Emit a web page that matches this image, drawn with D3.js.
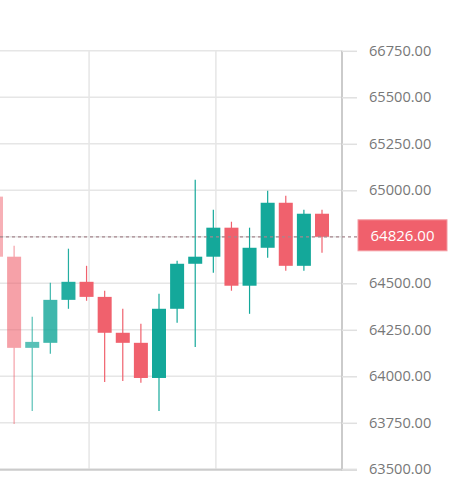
<!DOCTYPE html>
<html>
<head>
<meta charset="utf-8">
<script src="https://cdn.jsdelivr.net/npm/d3@7"></script>
<style>
  body { margin: 0; background: #fff; }
  text { font-family: "Open Sans", sans-serif; }
</style>
</head>
<body>
<div id="chart"></div>
<script>
"use strict";

// candle values (index 0 is cut by the left edge)
const opens  = [64966, 64643, 64153, 64180, 64411, 64508, 64427, 64234, 64180, 63991, 64363, 64605, 64643, 64799, 64487, 64691, 64933, 64594, 64874];
const highs  = [65010, 64702, 64320, 64503, 64686, 64594, 64460, 64363, 64282, 64444, 64621, 65057, 64896, 64831, 64799, 64998, 64971, 64896, 64896];
const lows   = [64600, 63744, 63814, 64121, 64363, 64406, 63970, 63975, 63965, 63814, 64288, 64158, 64557, 64460, 64336, 64637, 64567, 64567, 64664];
const closes = [64643, 64153, 64185, 64411, 64508, 64427, 64234, 64180, 63991, 64363, 64605, 64643, 64799, 64487, 64691, 64933, 64594, 64874, 64750];

const tickValues = [63500, 63750, 64000, 64250, 64500, 65000, 65250, 65500, 65750];
const tickLabels = ["63500.00", "63750.00", "64000.00", "64250.00", "64500.00", "65000.00", "65250.00", "65500.00", "66750.00"];
const gridValues = [63500, 63750, 64000, 64250, 64500, 64750, 65000, 65250, 65500, 65750];
const timeGrid = [5.14, 12.14];
const lastLabel = "64826.00";

const W = 468, H = 500;
const plotRight = 342;
const UP = "#14a89a", DOWN = "#f0616d";

const svg = d3.select("#chart").append("svg")
    .attr("width", W)
    .attr("height", H);

const x = d3.scaleLinear().domain([0, 18]).range([-4, 322]);
const y = d3.scaleLinear().domain([63500, 65750]).range([469.3, 50.8]);
const fade = d3.scaleLinear().domain([0, 80]).range([0.5, 1]).clamp(true);
const bodyW = 14;

// grid
svg.append("g").selectAll("line")
    .data(gridValues)
    .enter().append("line")
    .attr("x1", 0).attr("x2", plotRight)
    .attr("y1", d => y(d)).attr("y2", d => y(d))
    .attr("stroke", "#e6e6e6")
    .attr("stroke-width", 1.5);

svg.append("g").selectAll("line")
    .data(timeGrid)
    .enter().append("line")
    .attr("x1", d => x(d)).attr("x2", d => x(d))
    .attr("y1", y(65750)).attr("y2", y(63500))
    .attr("stroke", "#e6e6e6")
    .attr("stroke-width", 1.5);

// bottom line
svg.append("line")
    .attr("x1", 0).attr("x2", plotRight + 15)
    .attr("y1", y(63500) + 0.5).attr("y2", y(63500) + 0.5)
    .attr("stroke", "#cbcbcb")
    .attr("stroke-width", 2);

// candles
const candles = svg.append("g").selectAll("g")
    .data(opens.map((o, i) => ({ i: i, o: o, h: highs[i], l: lows[i], c: closes[i] })))
    .enter().append("g")
    .attr("opacity", d => fade(x(d.i)));

candles.append("line")
    .attr("x1", d => x(d.i)).attr("x2", d => x(d.i))
    .attr("y1", d => y(d.h)).attr("y2", d => y(d.l))
    .attr("stroke", d => d.c >= d.o ? UP : DOWN)
    .attr("stroke-width", 1.2);

candles.append("rect")
    .attr("x", d => x(d.i) - bodyW / 2)
    .attr("width", bodyW)
    .attr("y", d => y(Math.max(d.o, d.c)))
    .attr("height", d => Math.max(1, Math.abs(y(d.o) - y(d.c))))
    .attr("fill", d => d.c >= d.o ? UP : DOWN);

// last price line
const lastY = y(closes[closes.length - 1]);
svg.append("line")
    .attr("x1", 0).attr("x2", plotRight)
    .attr("y1", lastY).attr("y2", lastY)
    .attr("stroke", "#a5868d")
    .attr("stroke-width", 1.3)
    .attr("stroke-dasharray", "3,3");

// right axis
const axis = svg.append("g")
    .attr("transform", "translate(" + plotRight + ",0)")
    .call(d3.axisRight(y)
        .tickValues(tickValues)
        .tickFormat((d, i) => tickLabels[i])
        .tickSize(15)
        .tickPadding(12));

axis.select(".domain")
    .attr("d", "M0," + y(65750) + "V" + (y(63500) + 1.5))
    .attr("stroke", "#cbcbcb")
    .attr("stroke-width", 2);
axis.selectAll(".tick line")
    .attr("stroke", "#e0e0e0")
    .attr("stroke-width", 1.5);
axis.selectAll(".tick text")
    .attr("fill", "#777")
    .style("font-family", "'Open Sans', sans-serif")
    .style("font-size", "14.6px");

// last price label
const lbl = svg.append("g");
lbl.append("line")
    .attr("x1", plotRight).attr("x2", 358)
    .attr("y1", lastY).attr("y2", lastY)
    .attr("stroke", "#a5868d")
    .attr("stroke-width", 1.3)
    .attr("stroke-dasharray", "3,3");
lbl.append("rect")
    .attr("x", 358).attr("y", lastY - 17)
    .attr("width", 89).attr("height", 31)
    .attr("fill", "#f0606c")
    .attr("stroke", "#f39aa2")
    .attr("stroke-width", 1);
lbl.append("text")
    .attr("x", 402.5).attr("y", lastY - 1.5)
    .attr("dy", "0.35em")
    .attr("text-anchor", "middle")
    .attr("fill", "#fff")
    .style("font-size", "15px")
    .text(lastLabel);
</script>
</body>
</html>
